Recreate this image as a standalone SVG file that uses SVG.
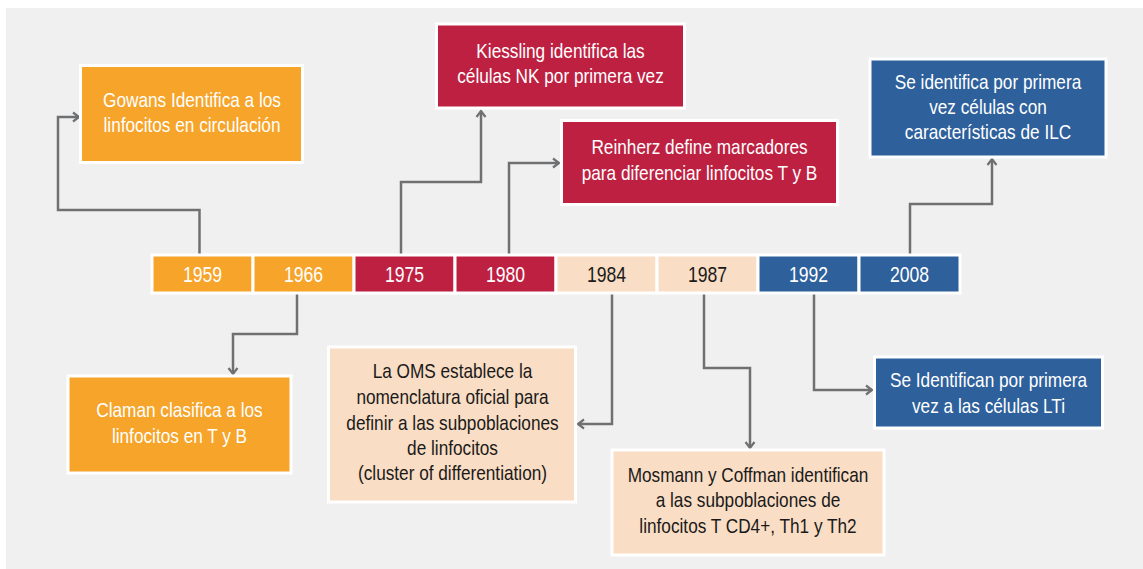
<svg xmlns="http://www.w3.org/2000/svg" width="1143" height="569" viewBox="0 0 1143 569">
<defs>
<style>
.bg{fill:#f0f0f0}
.box{stroke:#ffffff;stroke-width:3}
.or{fill:#f6a42a}
.cr{fill:#be2042}
.bl{fill:#2e609c}
.pe{fill:#f9ddc4}
.t{font-family:"Liberation Sans",Arial,sans-serif;font-size:21px;text-anchor:middle}
.yr{font-size:22px}
.w{fill:#ffffff}
.k{fill:#1a1a1a}
.c{fill:none;stroke:#6f7072;stroke-width:2.5;marker-end:url(#ah)}
</style>
<marker id="ah" markerUnits="userSpaceOnUse" markerWidth="12" markerHeight="12" refX="8" refY="6" orient="auto">
<path d="M2,1.5 L8,6 L2,10.5" fill="none" stroke="#6f7072" stroke-width="2.2"/>
</marker>
</defs>
<rect class="bg" x="6" y="8" width="1137" height="561"/>

<g id="connectors">
<path class="c" d="M199.5,254 V210 H58 V117 H79"/>
<path class="c" d="M401,254 V182 H481 V111"/>
<path class="c" d="M509,254 V163 H559"/>
<path class="c" d="M910,254 V204 H992 V159"/>
<path class="c" d="M297,294 V334 H233 V374"/>
<path class="c" d="M612,294 V424 H578"/>
<path class="c" d="M704,294 V368 H750 V448"/>
<path class="c" d="M814,294 V390 H872"/>
</g>

<g id="y1959"><rect class="box or" x="152" y="255" width="101" height="38"/><text class="t yr w" transform="translate(202.5 282) scale(0.8 1)">1959</text></g>
<g id="y1966"><rect class="box or" x="253" y="255" width="101" height="38"/><text class="t yr w" transform="translate(303.5 282) scale(0.8 1)">1966</text></g>
<g id="y1975"><rect class="box cr" x="354" y="255" width="101" height="38"/><text class="t yr w" transform="translate(404.5 282) scale(0.8 1)">1975</text></g>
<g id="y1980"><rect class="box cr" x="455" y="255" width="101" height="38"/><text class="t yr w" transform="translate(505.5 282) scale(0.8 1)">1980</text></g>
<g id="y1984"><rect class="box pe" x="556" y="255" width="101" height="38"/><text class="t yr k" transform="translate(606.5 282) scale(0.8 1)">1984</text></g>
<g id="y1987"><rect class="box pe" x="657" y="255" width="101" height="38"/><text class="t yr k" transform="translate(707.5 282) scale(0.8 1)">1987</text></g>
<g id="y1992"><rect class="box bl" x="758" y="255" width="101" height="38"/><text class="t yr w" transform="translate(808.5 282) scale(0.8 1)">1992</text></g>
<g id="y2008"><rect class="box bl" x="859" y="255" width="101" height="38"/><text class="t yr w" transform="translate(909.5 282) scale(0.8 1)">2008</text></g>

<g id="gowans"><rect class="box or" x="80.5" y="65.5" width="222" height="97"/>
<g transform="translate(192 0) scale(0.82 1)">
<text class="t w" x="0" y="107">Gowans Identifica a los</text>
<text class="t w" x="0" y="132">linfocitos en circulación</text></g></g>

<g id="kiessling"><rect class="box cr" x="436.5" y="24" width="248" height="84"/>
<g transform="translate(560.5 0) scale(0.82 1)">
<text class="t w" x="0" y="58">Kiessling identifica las</text>
<text class="t w" x="0" y="83">células NK por primera vez</text></g></g>

<g id="reinherz"><rect class="box cr" x="561.5" y="120.5" width="276" height="84"/>
<g transform="translate(699.5 0) scale(0.82 1)">
<text class="t w" x="0" y="154">Reinherz define marcadores</text>
<text class="t w" x="0" y="180">para diferenciar linfocitos T y B</text></g></g>

<g id="ilc"><rect class="box bl" x="870" y="59" width="236" height="98"/>
<g transform="translate(988 0) scale(0.82 1)">
<text class="t w" x="0" y="89">Se identifica por primera</text>
<text class="t w" x="0" y="114">vez células con</text>
<text class="t w" x="0" y="139">características de ILC</text></g></g>

<g id="claman"><rect class="box or" x="68" y="376" width="223" height="97"/>
<g transform="translate(179.5 0) scale(0.82 1)">
<text class="t w" x="0" y="417">Claman clasifica a los</text>
<text class="t w" x="0" y="443">linfocitos en T y B</text></g></g>

<g id="oms"><rect class="box pe" x="328.5" y="347" width="247" height="155"/>
<g transform="translate(452.5 0) scale(0.82 1)">
<text class="t k" x="0" y="378">La OMS establece la</text>
<text class="t k" x="0" y="404">nomenclatura oficial para</text>
<text class="t k" x="0" y="430">definir a las subpoblaciones</text>
<text class="t k" x="0" y="455">de linfocitos</text>
<text class="t k" x="0" y="480">(cluster of differentiation)</text></g></g>

<g id="mosmann"><rect class="box pe" x="612" y="450" width="272" height="105"/>
<g transform="translate(748 0) scale(0.82 1)">
<text class="t k" x="0" y="482">Mosmann y Coffman identifican</text>
<text class="t k" x="0" y="507">a las subpoblaciones de</text>
<text class="t k" x="0" y="533">linfocitos T CD4+, Th1 y Th2</text></g></g>

<g id="lti"><rect class="box bl" x="874.5" y="357" width="228" height="71"/>
<g transform="translate(988.5 0) scale(0.82 1)">
<text class="t w" x="0" y="387">Se Identifican por primera</text>
<text class="t w" x="0" y="413">vez a las células LTi</text></g></g>
</svg>
